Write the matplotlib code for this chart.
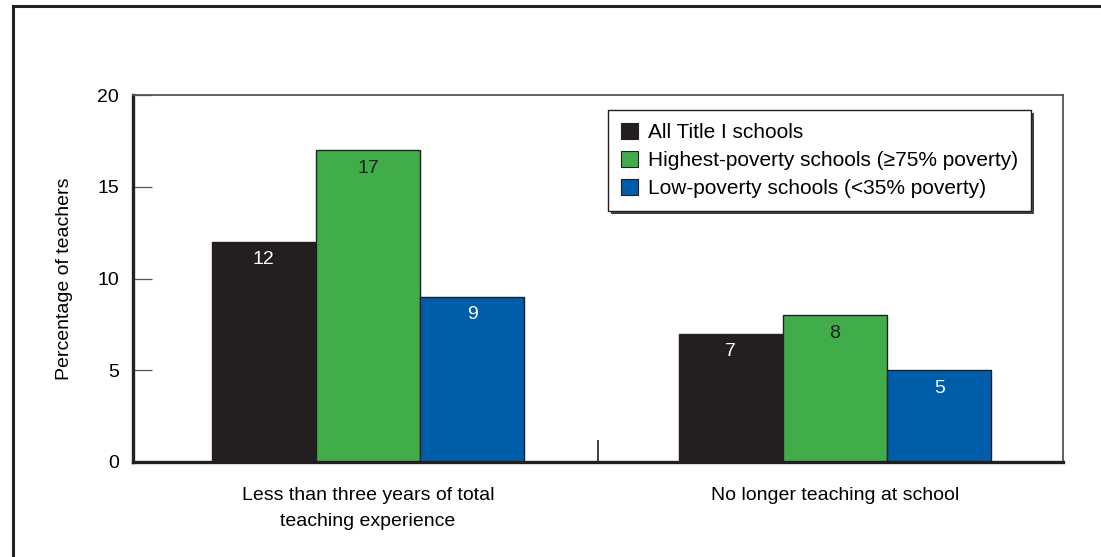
import matplotlib
matplotlib.use("Agg")
import matplotlib.pyplot as plt
from matplotlib.lines import Line2D
from matplotlib.patches import Patch, Rectangle
import numpy as np

plt.rcParams['font.family'] = ['Liberation Sans', 'DejaVu Sans']

categories = ["Less than three years of total\nteaching experience",
              "No longer teaching at school"]
series_names = ["All Title I schools",
                "Highest-poverty schools (\u226575% poverty)",
                "Low-poverty schools (<35% poverty)"]
all_title1 = [12, 7]
highest_poverty = [17, 8]
low_poverty = [9, 5]
yticks = [0, 5, 10, 15, 20]

series = [all_title1, highest_poverty, low_poverty]
colors = ["#231F20", "#40AD4A", "#005DAA"]
text_colors = ["white", "#231F20", "white"]

FS = 14
W, H = 1101, 557
fig = plt.figure(figsize=(W / 100, H / 100), dpi=100)
ax = fig.add_axes([133 / W, 1 - 462 / H, (1063 - 133) / W, (462 - 95) / H])

x = np.arange(len(categories))
width = 0.223
for i, (vals, col, tcol) in enumerate(zip(series, colors, text_colors)):
    pos = x + (i - 1) * width
    bars = ax.bar(pos, vals, width, color=col, edgecolor="#231F20",
                  linewidth=1.0, label=series_names[i], zorder=2)
    for b, v in zip(bars, vals):
        ax.annotate(str(v), (b.get_x() + b.get_width() / 2, v),
                    xytext=(0, -13), textcoords="offset points",
                    ha="center", va="center", fontsize=FS, color=tcol,
                    zorder=3)

ax.set_xlim(-0.503, 1.488)
ax.set_ylim(0, 20)
ax.set_yticks(yticks)
ax.tick_params(axis="y", direction="in", length=14, width=0.9,
               color="#555555", labelsize=FS, pad=10)

# Group labels sit at minor ticks; a single major tick divides the groups
ax.set_xticks([0.4925])
ax.set_xticklabels([""])
ax.set_xticks(x, minor=True)
ax.set_xticklabels(categories, minor=True, fontsize=FS, linespacing=1.7)
ax.tick_params(axis="x", which="major", direction="in", length=16,
               width=1.2, color="#231F20")
ax.tick_params(axis="x", which="minor", length=0, pad=18)

for side in ("left", "bottom"):
    ax.spines[side].set_linewidth(2.4)
    ax.spines[side].set_color("#231F20")
for side in ("top", "right"):
    ax.spines[side].set_linewidth(1.3)
    ax.spines[side].set_color("#555555")

ax.set_ylabel("Percentage of teachers", fontsize=FS)
ax.yaxis.set_label_coords(-0.065, 0.5)

handles = [Patch(facecolor=c, edgecolor="#231F20", linewidth=0.8) for c in colors]
leg = ax.legend(handles, series_names, loc="upper left",
                bbox_to_anchor=((608 - 133) / (1063 - 133), 1 - (110 - 95) / (462 - 95)),
                fontsize=15, frameon=True, fancybox=False, shadow=False,
                framealpha=1.0, facecolor="white",
                handlelength=0.8, handleheight=0.8, handletextpad=0.5,
                labelspacing=0.42, borderpad=0.62, borderaxespad=0)
frame = leg.get_frame()
frame.set_edgecolor("#231F20")
frame.set_linewidth(1.0)
leg.set_zorder(6)

# Drop shadow behind the legend box
fig.canvas.draw()
bb = leg.get_window_extent().transformed(ax.transAxes.inverted())
dx = 3 / (1063 - 133)
dy = 3 / (462 - 95)
ax.add_patch(Rectangle((bb.x0 + dx, bb.y0 - dy), bb.width, bb.height,
                       transform=ax.transAxes, facecolor="#444444",
                       edgecolor="none", zorder=5, clip_on=False))

# Outer frame running off the right and bottom edges
fig.add_artist(Line2D([13 / W, 13 / W], [0, 1 - 6 / H], color="#231F20",
                      linewidth=2.2, transform=fig.transFigure))
fig.add_artist(Line2D([13 / W, 1], [1 - 6 / H, 1 - 6 / H], color="#231F20",
                      linewidth=2.2, transform=fig.transFigure))

fig.savefig("out.png", dpi=100)
